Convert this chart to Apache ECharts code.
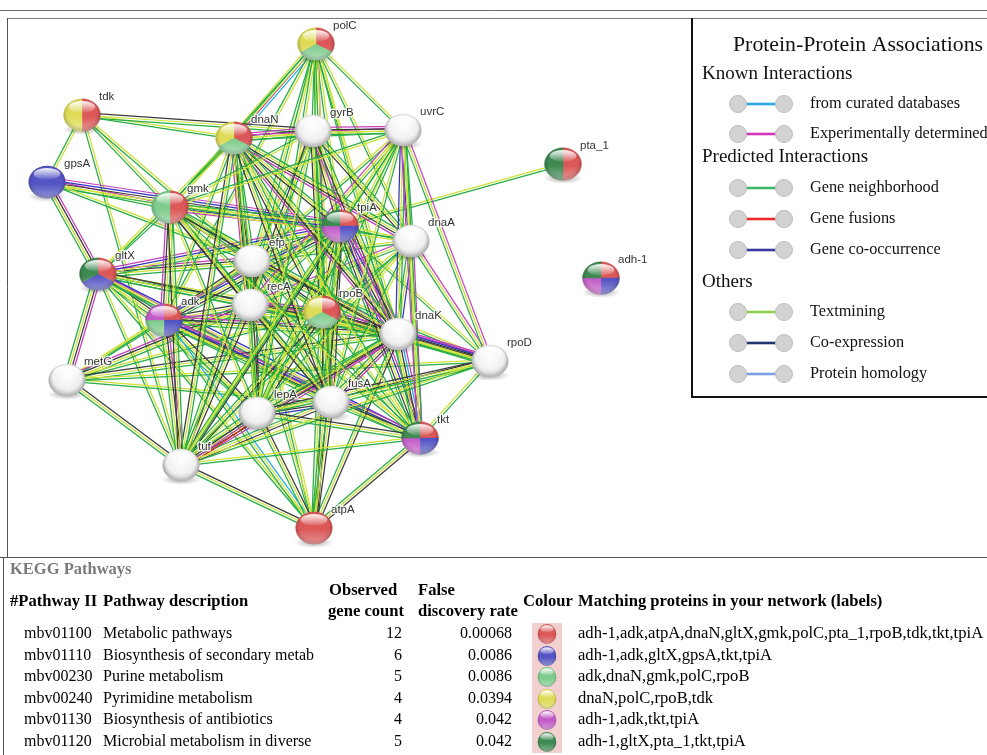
<!DOCTYPE html>
<html>
<head>
<meta charset="utf-8">
<script src="https://cdn.jsdelivr.net/npm/echarts@6/dist/echarts.min.js"></script>
<style>
  html, body { margin: 0; padding: 0; background: #ffffff; }
  #chart { width: 987px; height: 755px; }
</style>
</head>
<body>
<div id="chart"></div>
<script>
// ---- network nodes (layout positions of the STRING graph) ----
const proteins = ['polC','tdk','dnaN','gyrB','uvrC','gpsA','pta_1','gmk','tpiA','dnaA','efp','gltX',
                  'adh-1','adk','recA','rpoB','dnaK','rpoD','metG','fusA','lepA','tkt','tuf','atpA'];
const nodeX = [316, 82, 234, 313, 403, 47, 563, 170, 340, 411, 252, 98, 601, 164, 250, 322, 398, 490, 67, 331, 257, 420, 181, 314];
const nodeY = [ 44,115, 138, 131, 130,182, 164, 207, 226, 241, 261,274, 278, 320, 305, 312, 334, 361,380, 402, 413, 438, 465, 528];

// ---- interactions: source, target, evidence channels ----
// d curated db, e experiments, n neighborhood, f fusion, c co-occurrence, t textmining, x co-expression
const links = [
  ['polC','dnaN','dent'],['polC','gyrB','tn'],['polC','uvrC','tn'],['polC','gmk','tn'],['polC','efp','tn'],
  ['polC','recA','tn'],['polC','rpoB','etn'],['polC','tpiA','tn'],['polC','dnaA','tn'],['polC','dnaK','tn'],
  ['polC','fusA','tn'],['polC','lepA','tn'],['polC','tkt','tn'],['polC','adk','tn'],
  ['tdk','dnaN','tn'],['tdk','gyrB','xtn'],['tdk','gpsA','tn'],['tdk','gmk','tn'],['tdk','tuf','tn'],['tdk','efp','tn'],
  ['gpsA','gmk','etn'],['gpsA','tpiA','ecxtn'],['gpsA','gltX','extn'],['gpsA','efp','tn'],
  ['gltX','gmk','tn'],['gltX','adk','extn'],['gltX','efp','extn'],['gltX','recA','xtn'],['gltX','rpoB','tn'],
  ['gltX','tpiA','ectn'],['gltX','metG','extn'],['gltX','tuf','tn'],['gltX','lepA','tn'],['gltX','fusA','etn'],
  ['gltX','dnaK','xtn'],['gltX','dnaN','tn'],['gltX','tkt','ctn'],['gltX','atpA','tn'],
  ['metG','adk','tn'],['metG','tuf','xtn'],['metG','efp','tn'],['metG','recA','extn'],['metG','rpoB','tn'],
  ['metG','dnaK','xtn'],['metG','fusA','tn'],['metG','rpoD','tn'],
  ['adk','gmk','extn'],['adk','efp','xtn'],['adk','recA','xtn'],['adk','rpoB','etn'],['adk','tpiA','ectxn'],
  ['adk','dnaK','extn'],['adk','fusA','extn'],['adk','lepA','xtn'],['adk','tuf','extn'],['adk','atpA','dtn'],
  ['adk','tkt','ectn'],['adk','dnaN','tn'],
  ['efp','gmk','xtn'],['efp','recA','xtn'],['efp','rpoB','xtn'],['efp','tpiA','xtn'],['efp','dnaA','tn'],
  ['efp','dnaK','extn'],['efp','fusA','xtn'],['efp','lepA','xtn'],['efp','tuf','xtn'],['efp','tkt','tn'],
  ['efp','dnaN','xtn'],['efp','gyrB','tn'],['efp','uvrC','tn'],['efp','atpA','tn'],['efp','rpoD','tn'],
  ['recA','gmk','xtn'],['recA','rpoB','extn'],['recA','tpiA','tn'],['recA','dnaA','etn'],['recA','dnaK','extn'],
  ['recA','fusA','xtn'],['recA','lepA','xtn'],['recA','tuf','xtn'],['recA','tkt','tn'],['recA','dnaN','extn'],
  ['recA','gyrB','xtn'],['recA','uvrC','etn'],['recA','atpA','tn'],['recA','rpoD','tn'],
  ['rpoB','gmk','tn'],['rpoB','tpiA','xtn'],['rpoB','dnaA','tn'],['rpoB','dnaK','extn'],['rpoB','fusA','extn'],
  ['rpoB','lepA','xtn'],['rpoB','tuf','xtn'],['rpoB','tkt','tn'],['rpoB','dnaN','xtn'],['rpoB','gyrB','xtn'],
  ['rpoB','uvrC','tn'],['rpoB','atpA','xtn'],['rpoB','rpoD','extn'],
  ['tpiA','gmk','ectn'],['tpiA','pta_1','tn'],['tpiA','dnaA','tn'],['tpiA','dnaK','ectxn'],['tpiA','fusA','xtn'],
  ['tpiA','lepA','tn'],['tpiA','tuf','xtn'],['tpiA','tkt','ectxn'],['tpiA','dnaN','xtn'],['tpiA','gyrB','xtn'],
  ['tpiA','uvrC','tn'],['tpiA','atpA','xtn'],['tpiA','rpoD','tn'],
  ['dnaA','uvrC','ctn'],['dnaA','gyrB','xtn'],['dnaA','dnaN','extn'],['dnaA','dnaK','ctn'],['dnaA','rpoD','etn'],
  ['dnaA','tkt','etn'],['dnaA','fusA','tn'],['dnaA','lepA','tn'],['dnaA','tuf','tn'],['dnaA','gmk','tn'],
  ['dnaK','rpoD','ecxtn'],['dnaK','fusA','extn'],['dnaK','lepA','extn'],['dnaK','tuf','extn'],['dnaK','tkt','edxtn'],
  ['dnaK','dnaN','extn'],['dnaK','gyrB','extn'],['dnaK','uvrC','ctn'],['dnaK','atpA','xtn'],['dnaK','gmk','xtn'],
  ['fusA','lepA','cxtn'],['fusA','tuf','xtn'],['fusA','tkt','xtn'],['fusA','atpA','xtn'],['fusA','rpoD','xtn'],
  ['fusA','dnaN','xtn'],['fusA','gyrB','tn'],['fusA','uvrC','tn'],['fusA','gmk','xtn'],
  ['lepA','tuf','fextn'],['lepA','tkt','xtn'],['lepA','atpA','xtn'],['lepA','rpoD','xtn'],['lepA','dnaN','tn'],
  ['lepA','gyrB','tn'],['lepA','uvrC','tn'],['lepA','gmk','tn'],
  ['tuf','tkt','tn'],['tuf','atpA','xtn'],['tuf','rpoD','tn'],['tuf','dnaN','xtn'],['tuf','gmk','xtn'],['tuf','uvrC','tn'],
  ['tkt','atpA','xtn'],['tkt','rpoD','tn'],['tkt','uvrC','etn'],['tkt','dnaN','tn'],['tkt','gmk','tn'],
  ['dnaN','gyrB','extn'],['dnaN','uvrC','etn'],['dnaN','gmk','tn'],
  ['gyrB','uvrC','extn'],['gyrB','gmk','tn'],
  ['uvrC','gmk','tn'],['uvrC','rpoD','etn']
];

// ---- KEGG enrichment table ----
const pathwayIds = ['mbv01100','mbv01110','mbv00230','mbv00240','mbv01130','mbv01120'];
const pathwayNames = ['Metabolic pathways','Biosynthesis of secondary metabolites','Purine metabolism',
                      'Pyrimidine metabolism','Biosynthesis of antibiotics','Microbial metabolism in diverse environments'];
const geneCounts = [12, 6, 5, 4, 4, 5];
const fdrValues = ['0.00068','0.0086','0.0086','0.0394','0.042','0.042'];
const pathwayMembers = [
  'adh-1,adk,atpA,dnaN,gltX,gmk,polC,pta_1,rpoB,tdk,tkt,tpiA',
  'adh-1,adk,gltX,gpsA,tkt,tpiA',
  'adk,dnaN,gmk,polC,rpoB',
  'dnaN,polC,rpoB,tdk',
  'adh-1,adk,tkt,tpiA',
  'adh-1,gltX,pta_1,tkt,tpiA'
];
const pathwayColors = ['#dc5858','#5454c4','#7fcc8e','#dedb58','#c35ec8','#3f8a53'];

// ---- legend entries ----
const legendGroups = ['Known Interactions','Predicted Interactions','Others'];
const legendItems = [
  ['from curated databases','Experimentally determined'],
  ['Gene neighborhood','Gene fusions','Gene co-occurrence'],
  ['Textmining','Co-expression','Protein homology']
];
const legendColors = [
  ['#27a9e1','#d336b8'],
  ['#3db86a','#ec2a2a','#3a3aa0'],
  ['#92cf4f','#23346e','#7b9fe0']
];

const channelColor = { d:'#1fb0e6', e:'#c93cbe', n:'#26ad45', f:'#e2261c', c:'#3434c4', t:'#cde234', x:'#3a3a3a', h:'#7b9fe0' };

// ---- derived structures ----
const nodeIndex = {};
proteins.forEach((p, i) => { nodeIndex[p] = i; });
const memberSets = pathwayMembers.map(s => s.split(','));
const nodeColors = proteins.map(p => {
  const c = [];
  memberSets.forEach((m, k) => { if (m.indexOf(p) >= 0) c.push(pathwayColors[k]); });
  return c;
});
const seen = {};
const edgeList = links.filter(l => {
  const key = [l[0], l[1]].sort().join('|');
  if (seen[key]) return false;
  seen[key] = true;
  return true;
});
const edgeData = edgeList.map(l => {
  const a = nodeIndex[l[0]], b = nodeIndex[l[1]];
  return [nodeX[a], nodeY[a], nodeX[b], nodeY[b]];
});
const nodeData = proteins.map((p, i) => [nodeX[i], nodeY[i]]);

const RG = echarts.graphic.RadialGradient;
const LG = echarts.graphic.LinearGradient;

function sphereBody(cols, R) {
  const body = [];
  if (cols.length === 0) {
    body.push({ type: 'circle', shape: { cx: 0, cy: 0, r: R },
      style: { fill: new RG(0.5, 0.38, 0.7, [
        { offset: 0, color: '#ffffff' }, { offset: 0.55, color: '#efefef' }, { offset: 1, color: '#a8a8a8' }]) } });
  } else if (cols.length === 1) {
    body.push({ type: 'circle', shape: { cx: 0, cy: 0, r: R }, style: { fill: cols[0] } });
  } else {
    const n = cols.length, step = Math.PI * 2 / n;
    cols.forEach((col, k) => {
      const a0 = -Math.PI / 2 + k * step;
      body.push({ type: 'sector', shape: { cx: 0, cy: 0, r0: 0, r: R, startAngle: a0, endAngle: a0 + step, clockwise: true },
        style: { fill: col, stroke: col, lineWidth: 0.4 } });
    });
  }
  // rim darkening
  body.push({ type: 'circle', shape: { cx: 0, cy: 0, r: R },
    style: { fill: new RG(0.5, 0.45, 0.55, [
      { offset: 0, color: 'rgba(0,0,0,0)' }, { offset: 0.72, color: 'rgba(0,0,0,0)' }, { offset: 1, color: 'rgba(0,0,0,0.28)' }]) } });
  // reflected light at the bottom
  body.push({ type: 'circle', shape: { cx: 0, cy: 0, r: R },
    style: { fill: new LG(0, 0, 0, 1, [
      { offset: 0, color: 'rgba(255,255,255,0)' }, { offset: 0.55, color: 'rgba(255,255,255,0)' }, { offset: 1, color: 'rgba(255,255,255,0.38)' }]) } });
  // top gloss
  body.push({ type: 'group', y: -R * 0.5, scaleY: 0.5, children: [
    { type: 'circle', shape: { cx: 0, cy: 0, r: R * 0.72 },
      style: { fill: new LG(0, 0, 0, 1, [
        { offset: 0, color: 'rgba(255,255,255,0.95)' }, { offset: 1, color: 'rgba(255,255,255,0.05)' }]) } }] });
  return body;
}

// ---- frame, legend and table drawn as graphic elements ----
const graphics = [];
const line = (x1, y1, x2, y2, color, w) => graphics.push({ type: 'line', silent: true,
  shape: { x1, y1, x2, y2 }, style: { stroke: color, lineWidth: w } });
const text = (str, x, y, font, fill, align, extra) => graphics.push(Object.assign({ type: 'text', silent: true,
  style: Object.assign({ text: str, x, y, font, fill, textAlign: align || 'left', align: align || 'left',
    textVerticalAlign: 'middle', verticalAlign: 'middle' }, extra || {}) }));

line(0, 10.5, 987, 10.5, '#6a6a6a', 1);
line(7, 18.5, 987, 18.5, '#7a7a7a', 1);
line(7.5, 18, 7.5, 557, '#555555', 1);
line(0, 557.5, 987, 557.5, '#555555', 1);
line(3.5, 557, 3.5, 755, '#555555', 1);

// legend box
line(692, 18, 692, 397, '#111111', 2);
line(691, 397, 987, 397, '#111111', 2);
const serif = '"Liberation Serif", "Times New Roman", serif';
text('Protein-Protein Associations', 733, 45, '21.8px ' + serif, '#111');
const groupY = [74, 157, 282];
const itemY = [[104, 134], [188, 219, 250], [312, 343, 374]];
legendGroups.forEach((g, gi) => {
  text(g, 702, groupY[gi], '19px ' + serif, '#111');
  legendItems[gi].forEach((label, li) => {
    const y = itemY[gi][li];
    line(745, y, 777, y, legendColors[gi][li], 2.6);
    [738, 784].forEach(cx => graphics.push({ type: 'circle', silent: true, shape: { cx, cy: y, r: 8.5 },
      style: { fill: '#d2d2d2', stroke: '#bdbdbd', lineWidth: 1 } }));
    text(label, 810, y, '16.3px ' + serif, '#111');
  });
});

// table
text('KEGG Pathways', 10, 570, 'bold 16.5px ' + serif, '#7a7a7a');
const hb = 'bold 16.6px ' + serif;
text('#Pathway II', 10, 602, hb, '#000');
text('Pathway description', 103, 602, hb, '#000');
text('Observed', 329, 591, hb, '#000');
text('gene count', 328, 612, hb, '#000');
text('False', 418, 591, hb, '#000');
text('discovery rate', 418, 612, hb, '#000');
text('Colour', 523, 602, hb, '#000');
text('Matching proteins in your network (labels)', 578, 602, hb, '#000');
graphics.push({ type: 'rect', silent: true, shape: { x: 532, y: 623, width: 30, height: 130 }, style: { fill: '#f3d0d0' } });
const rowY = [634, 656, 677, 699, 720, 742];
const rf = '16px ' + serif;
const mf = '16.6px ' + serif;
pathwayIds.forEach((id, i) => {
  const y = rowY[i];
  text(id, 24, y, rf, '#000');
  text(pathwayNames[i], 103, y, rf, '#000', 'left', { width: 220, overflow: 'truncate', ellipsis: '' });
  text(String(geneCounts[i]), 402, y, rf, '#000', 'right');
  text(fdrValues[i], 512, y, rf, '#000', 'right');
  graphics.push({ type: 'group', silent: true, x: 547, y: y, scaleY: 1.08, children: sphereBody([pathwayColors[i]], 9.3) });
  text(pathwayMembers[i], 578, y, mf, '#000');
});

const option = {
  animation: false,
  backgroundColor: '#ffffff',
  grid: { left: 0, right: 0, top: 0, bottom: 0 },
  xAxis: { type: 'value', min: 0, max: 987, show: false },
  yAxis: { type: 'value', min: 0, max: 755, inverse: true, show: false },
  graphic: graphics,
  series: [
    {
      // interaction bundles: one thin parallel line per evidence channel
      type: 'custom',
      coordinateSystem: 'cartesian2d',
      silent: true,
      data: edgeData,
      encode: { x: [0, 2], y: [1, 3] },
      renderItem: function (params, api) {
        const p1 = api.coord([api.value(0), api.value(1)]);
        const p2 = api.coord([api.value(2), api.value(3)]);
        const ch = edgeList[params.dataIndex][2];
        const dx = p2[0] - p1[0], dy = p2[1] - p1[1];
        const len = Math.hypot(dx, dy) || 1;
        const nx = -dy / len, ny = dx / len;
        const k = ch.length, gap = 2.4;
        const children = [];
        for (let i = 0; i < k; i++) {
          const off = (i - (k - 1) / 2) * gap;
          children.push({ type: 'line',
            shape: { x1: p1[0] + nx * off, y1: p1[1] + ny * off, x2: p2[0] + nx * off, y2: p2[1] + ny * off },
            style: { stroke: channelColor[ch[i]], lineWidth: 1.25 } });
        }
        return { type: 'group', children };
      },
      z: 1
    },
    {
      // protein spheres, split into pathway colours
      type: 'custom',
      coordinateSystem: 'cartesian2d',
      silent: true,
      data: nodeData,
      encode: { x: 0, y: 1 },
      renderItem: function (params, api) {
        const i = params.dataIndex;
        const c = api.coord([api.value(0), api.value(1)]);
        const R = 18.5;
        return {
          type: 'group', x: c[0], y: c[1],
          children: [
            { type: 'group', y: R * 0.78, scaleY: 0.28, children: [
              { type: 'circle', shape: { cx: 0, cy: 0, r: R * 1.05 },
                style: { fill: new RG(0.5, 0.5, 0.5, [
                  { offset: 0, color: 'rgba(0,0,0,0.35)' }, { offset: 1, color: 'rgba(0,0,0,0)' }]) } }] },
            { type: 'group', scaleY: 0.88, children: sphereBody(nodeColors[i], R) },
            { type: 'text', x: 17, y: -18,
              style: { text: proteins[i], font: '11.5px "Liberation Sans", Arial, sans-serif', fill: '#333333',
                stroke: 'rgba(255,255,255,0.85)', lineWidth: 2.5,
                textAlign: 'left', align: 'left', textVerticalAlign: 'middle', verticalAlign: 'middle' } }
          ]
        };
      },
      z: 2
    }
  ]
};

const chart = echarts.init(document.getElementById('chart'), null, { renderer: 'canvas' });
chart.setOption(option);
</script>
</body>
</html>
